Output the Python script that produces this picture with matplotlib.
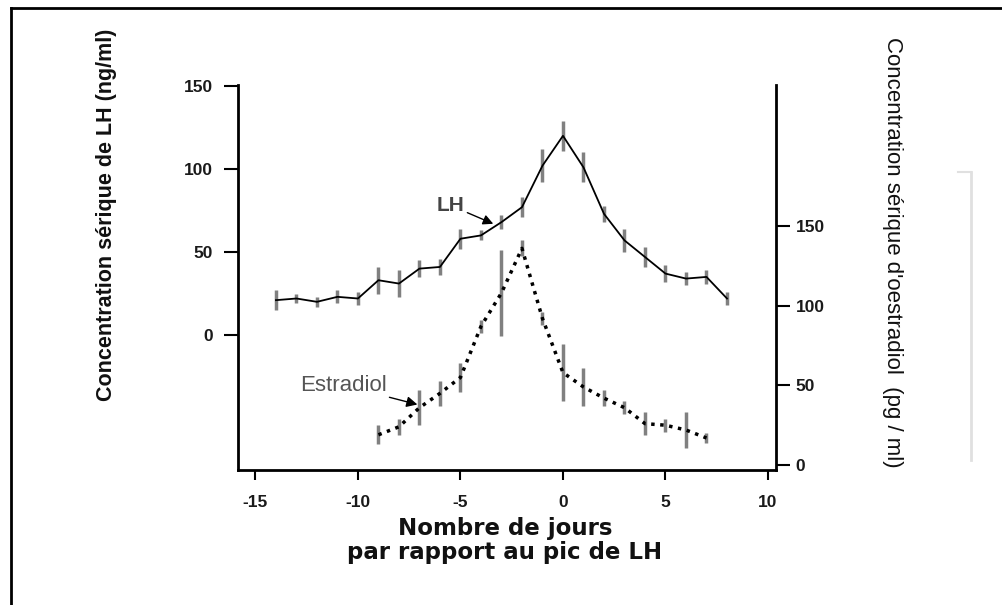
import numpy as np
import matplotlib
matplotlib.use("Agg")
import matplotlib.pyplot as plt
from matplotlib.lines import Line2D

plt.rcParams["axes.unicode_minus"] = False

# jours par rapport au pic de LH
jours_lh = np.arange(-14, 9)
lh = [21, 22, 20, 23, 22, 33, 31, 40, 41, 58, 60, 68, 77, 102, 120,
      101, 73, 57, 47, 37, 34, 35, 22]
lh_err = [6, 3, 3, 4, 4, 8, 8, 5, 5, 6, 3, 4, 6, 10, 9,
          9, 5, 7, 6, 5, 4, 4, 4]

jours_e2 = np.arange(-9, 8)
e2 = [19, 24, 36, 45, 55, 87, 108, 136, 92, 58, 49, 42, 36, 26, 25, 22, 17]
e2_err = [6, 5, 11, 8, 9, 4, 27, 5, 4, 18, 12, 5, 4, 7, 4, 11, 3]

lh_ticks = [0, 50, 100, 150]
e2_ticks = [0, 50, 100, 150]
x_ticks = [-15, -10, -5, 0, 5, 10]

W, H = 1003, 605
fig = plt.figure(figsize=(W / 100, H / 100), dpi=100)

ax = fig.add_axes([238 / W, 1 - 470 / H, (776 - 238) / W, (470 - 85) / H])
ax2 = ax.twinx()

ax.errorbar(jours_lh, lh, yerr=lh_err, color="black", lw=1.3,
            ecolor="#808080", elinewidth=2.5, capsize=0, zorder=3)
ax2.errorbar(jours_e2, e2, yerr=e2_err, color="black", lw=2.5, ls=(0, (1, 1.6)),
             ecolor="#808080", elinewidth=2.5, capsize=0, zorder=3)

ax.set_xlim(-15.85, 10.39)
ax.set_ylim(-81.3, 150.6)
ax2.set_ylim(-3.1, 238.5)

ax.set_xticks(x_ticks)
ax.set_yticks(lh_ticks)
ax2.set_yticks(e2_ticks)

for a in (ax, ax2):
    a.spines["top"].set_visible(False)
    a.tick_params(width=1.5, length=10, labelsize=12.5)
    for lab in a.get_xticklabels() + a.get_yticklabels():
        lab.set_fontweight("bold")
        lab.set_family("Liberation Sans")
        lab.set_color("#1a1a1a")
ax.spines["right"].set_visible(False)
ax2.spines["left"].set_visible(False)
ax2.spines["bottom"].set_visible(False)
for s in ("left", "bottom"):
    ax.spines[s].set_linewidth(2)
ax2.spines["right"].set_linewidth(2)
ax.tick_params(axis="x", length=7, pad=11)
ax.tick_params(axis="y", pad=8)
ax2.tick_params(axis="y", pad=4)

# annotations
ax.annotate("LH", xy=(-3.4, 67), xytext=(-4.8, 78), fontsize=15, fontweight="bold",
            family="Liberation Sans", color="#444444", ha="right", va="center",
            arrowprops=dict(arrowstyle="-|>", color="black", lw=1, shrinkA=0, shrinkB=0))
ax2.annotate("Estradiol", xy=(-7.1, 38), xytext=(-8.6, 50), fontsize=16,
             family="Liberation Sans", color="#555555", ha="right", va="center",
             arrowprops=dict(arrowstyle="-|>", color="black", lw=1, shrinkA=0, shrinkB=0))

fig.text(107 / W, 1 - 215 / H, "Concentration sérique de LH (ng/ml)", rotation=90,
         ha="center", va="center", fontsize=15.5, fontweight="bold",
         family="Liberation Sans", color="#111111")
fig.text(893 / W, 1 - 252 / H, "Concentration sérique d'oestradiol  (pg / ml)", rotation=-90,
         ha="center", va="center", fontsize=16,
         family="Liberation Sans", color="#111111")
fig.text(505 / W, 1 - 528 / H, "Nombre de jours", ha="center", va="center",
         fontsize=16.5, fontweight="bold", family="DejaVu Sans", color="#111111")
fig.text(505 / W, 1 - 553 / H, "par rapport au pic de LH", ha="center", va="center",
         fontsize=16.5, fontweight="bold", family="DejaVu Sans", color="#111111")

# cadre de l'image
fig.add_artist(Line2D([11 / W, 11 / W], [0, 1 - 8 / H], color="black", lw=2))
fig.add_artist(Line2D([11 / W, 1], [1 - 8 / H, 1 - 8 / H], color="black", lw=2))
fig.add_artist(Line2D([971 / W, 971 / W], [1 - 172 / H, 1 - 460 / H], color="#e0e0e0", lw=2))
fig.add_artist(Line2D([958 / W, 971 / W], [1 - 172 / H, 1 - 172 / H], color="#e0e0e0", lw=1.5))

fig.savefig("out.png", dpi=100)
